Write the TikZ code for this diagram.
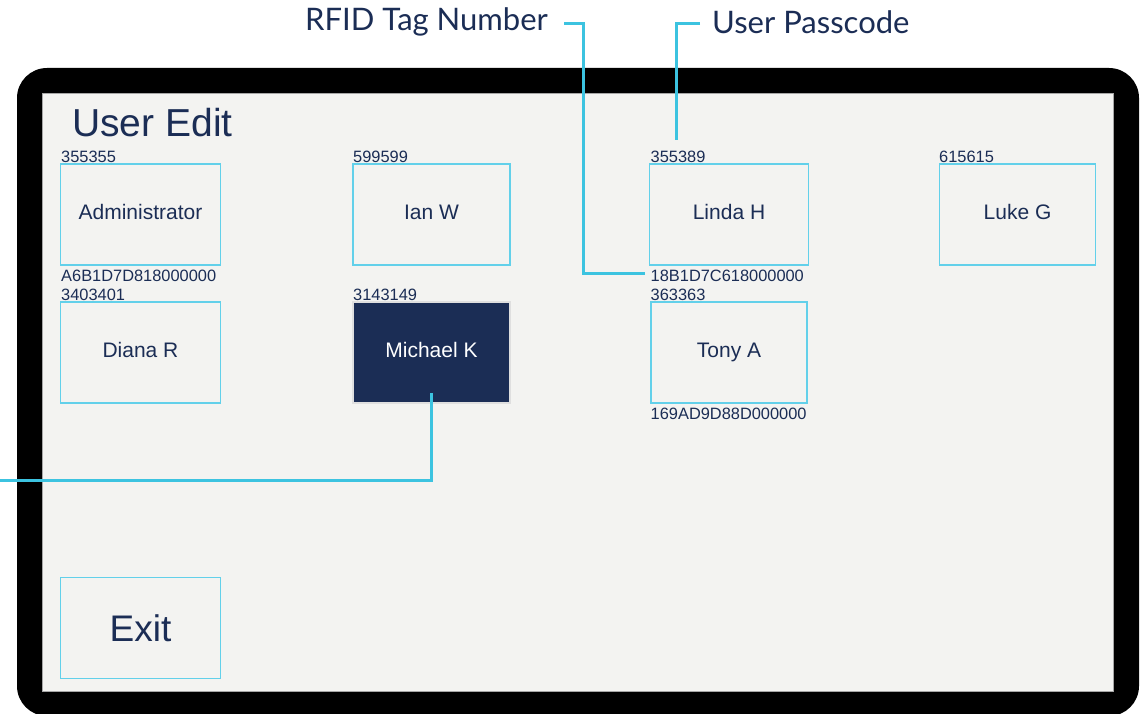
\documentclass[tikz,border=0pt]{standalone}
\usepackage{fontspec}
\setmainfont{Liberation Sans}
\newfontfamily\calloutfont{Lato}
\definecolor{navy}{HTML}{1B2D55}
\definecolor{linecyan}{HTML}{3CC3E0}
\definecolor{boxcyan}{HTML}{62D0EA}
\definecolor{screenbg}{HTML}{F3F3F1}
\tikzset{
  userbox/.style={draw=boxcyan, line width=1.3pt, fill=screenbg, inner sep=0pt,
    minimum height=101pt, text=navy, text height=15pt, text depth=5pt,
    font=\fontsize{21}{25}\selectfont},
  selbox/.style={userbox, draw=gray!25, fill=navy, text=white},
  code/.style={anchor=base west, inner sep=0pt, text=navy, font=\fontsize{16.4}{19}\selectfont},
  callout/.style={inner sep=0pt, text=navy, font=\calloutfont\fontsize{31}{35}\selectfont},
  leader/.style={draw=linecyan, line width=3pt}
}
\begin{document}
\begin{tikzpicture}[x=1pt, y=-1pt]
\useasboundingbox (0,0) rectangle (1140,714);
\begin{scope}
\clip (0,0) rectangle (1140,714);
% device frame and screen
\fill[black, rounded corners=30pt] (17,68) rectangle (1139,716);
\fill[screenbg, draw=gray!70, line width=0.6pt] (42,93) rectangle (1113,691);
\end{scope}

\node[anchor=base west, inner sep=0pt, text=navy, font=\fontsize{39}{44}\selectfont] (title) at (72,137) {User Edit};

% user buttons
\node[userbox, minimum width=160pt] (admin) at (140.5,214.5) {Administrator};
\node[userbox, minimum width=157pt] (ian) at (431.5,214.5) {Ian W};
\node[userbox, minimum width=159pt] (linda) at (729,214.5) {Linda H};
\node[userbox, minimum width=156pt] (luke) at (1017.5,214.5) {Luke G};
\node[userbox, minimum width=160pt] (diana) at (140.5,352.5) {Diana R};
\node[selbox, minimum width=157pt] (michael) at (431.5,352.5) {Michael K};
\node[userbox, minimum width=156pt] (tony) at (729,352.5) {Tony A};
\node[userbox, minimum width=160pt, text height=27pt, text depth=0pt,
      font=\fontsize{37}{42}\selectfont] (exit) at (140.5,628) {Exit};

% passcodes and tag numbers
\node[code] (pa) at (61,163) {355355};
\node[code] (pi) at (353,163) {599599};
\node[code] (pl) at (650.5,163) {355389};
\node[code] (pk) at (939,163) {615615};
\node[code] (ta) at (61,281) {A6B1D7D818000000};
\node[code] (tl) at (650.5,281) {18B1D7C618000000};
\node[code] (pd) at (61,300) {3403401};
\node[code] (pm) at (353,300) {3143149};
\node[code] (pt) at (650.5,300) {363363};
\node[code] (tt) at (650.5,419) {169AD9D88D000000};

% callouts
\node[callout, anchor=east] (rfid) at (548,22) {RFID Tag Number};
\node[callout, anchor=west] (pass) at (712,22) {User Passcode};
\coordinate (rfidend) at (645,273);
\coordinate (passend) at (676,140);
\coordinate (selend) at (0,480);
\coordinate (selstart) at (431,393);

\draw[leader] ([xshift=16pt]rfid.east |- 0,24) -- (583,24) -- (583,273) -- (rfidend);
\draw[leader] ([xshift=-12pt]pass.west |- 0,24) -- (676,24) -- (passend);
\draw[leader] (selstart) -- (431,480) -- (selend);
\end{tikzpicture}
\end{document}
